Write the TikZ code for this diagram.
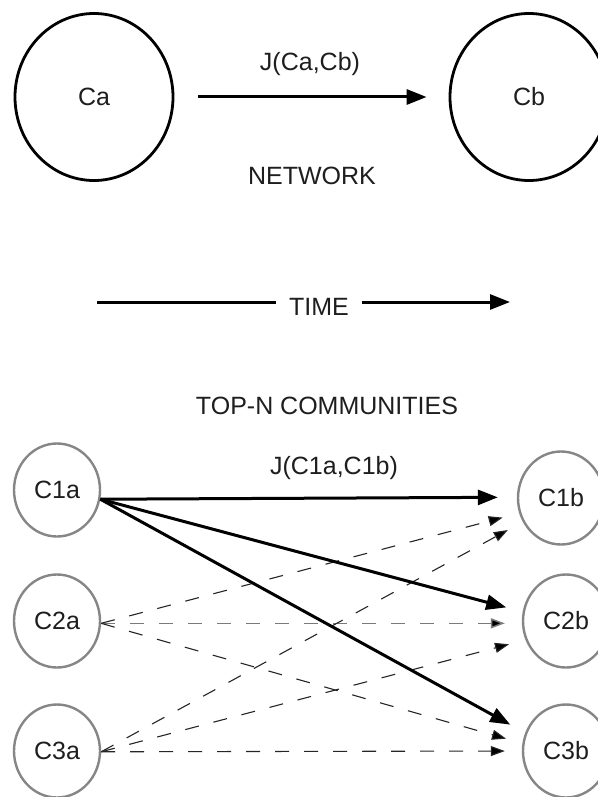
\documentclass[tikz,border=0pt]{standalone}
\usepackage{fontspec}
\setmainfont{Liberation Sans}
\usetikzlibrary{arrows.meta,shapes.geometric}

\definecolor{inkgray}{HTML}{1E1E1E}
\definecolor{ringgray}{HTML}{868686}
\definecolor{dashgray}{HTML}{262626}
\definecolor{midgray}{HTML}{7A7A7A}

\tikzset{
  label text/.style={font=\fontsize{25}{30}\selectfont, text=inkgray, inner sep=0pt},
  bigcomm/.style={ellipse, draw=black, line width=2.8pt, minimum width=158pt,
    minimum height=167pt, label text},
  smallcomm/.style={ellipse, draw=ringgray, line width=2.4pt, minimum width=86pt,
    minimum height=93pt, label text},
  strong/.style={line width=3pt, -{Triangle[length=20pt,width=15pt]}},
  weak/.style={draw=dashgray, line width=1.1pt, dash pattern=on 14pt off 15pt,
    -{Triangle[length=14pt,width=10pt,fill=black]}, shorten >=17pt},
}

\begin{document}
\begin{tikzpicture}[x=1pt, y=-1pt]
  \fill[white] (0,0) rectangle (597,797);
  \useasboundingbox (0,0) rectangle (597,797);

  % network view
  \node[bigcomm] (Ca) at (94,97) {Ca};
  \node[bigcomm] (Cb) at (529,97) {Cb};
  \draw[strong, shorten <=24pt, shorten >=22pt] (Ca.east) -- (Cb.west);
  \node[label text] (jab) at (310,64) {J(Ca,Cb)};
  \node[label text] (net) at (312,176) {NETWORK};

  % time axis
  \coordinate (t0) at (97,302);
  \coordinate (t1) at (510,302);
  \node[label text, inner xsep=13pt] (time) at (319,307) {TIME};
  \draw[line width=3pt] (t0) -- (t0 -| time.west);
  \draw[strong] (t1 -| time.east) -- (t1);

  % top-N communities
  \node[label text] (topn) at (327,406) {TOP-N COMMUNITIES};
  \node[label text] (j11) at (334,468) {J(C1a,C1b)};

  \node[smallcomm] (C1a) at (57,490) {C1a};
  \node[smallcomm] (C2a) at (57,621) {C2a};
  \node[smallcomm] (C3a) at (57,751) {C3a};
  \node[smallcomm] (C1b) at (561,498) {C1b};
  \node[smallcomm] (C2b) at (566,621) {C2b};
  \node[smallcomm] (C3b) at (566,751) {C3b};

  % weaker overlaps
  \draw[weak] (C2a.-3) -- (C1b.200);
  \draw[weak, draw=midgray, line width=1.5pt] (C2a.-3) -- (C2b.183);
  \draw[weak] (C2a.-3) -- (C3b.170);
  \draw[weak] (C3a.-1) -- (C1b.212);
  \draw[weak] (C3a.-1) -- (C2b.205);
  \draw[weak] (C3a.-1) -- (C3b.180);

  % strongest overlaps
  \draw[strong, shorten >=19pt] (C1a.-12) -- (C1b.179);
  \draw[strong, shorten >=17pt] (C1a.-12) -- (C2b.168);
  \draw[strong, shorten >=17pt] (C1a.-12) -- (C3b.156);
\end{tikzpicture}
\end{document}
